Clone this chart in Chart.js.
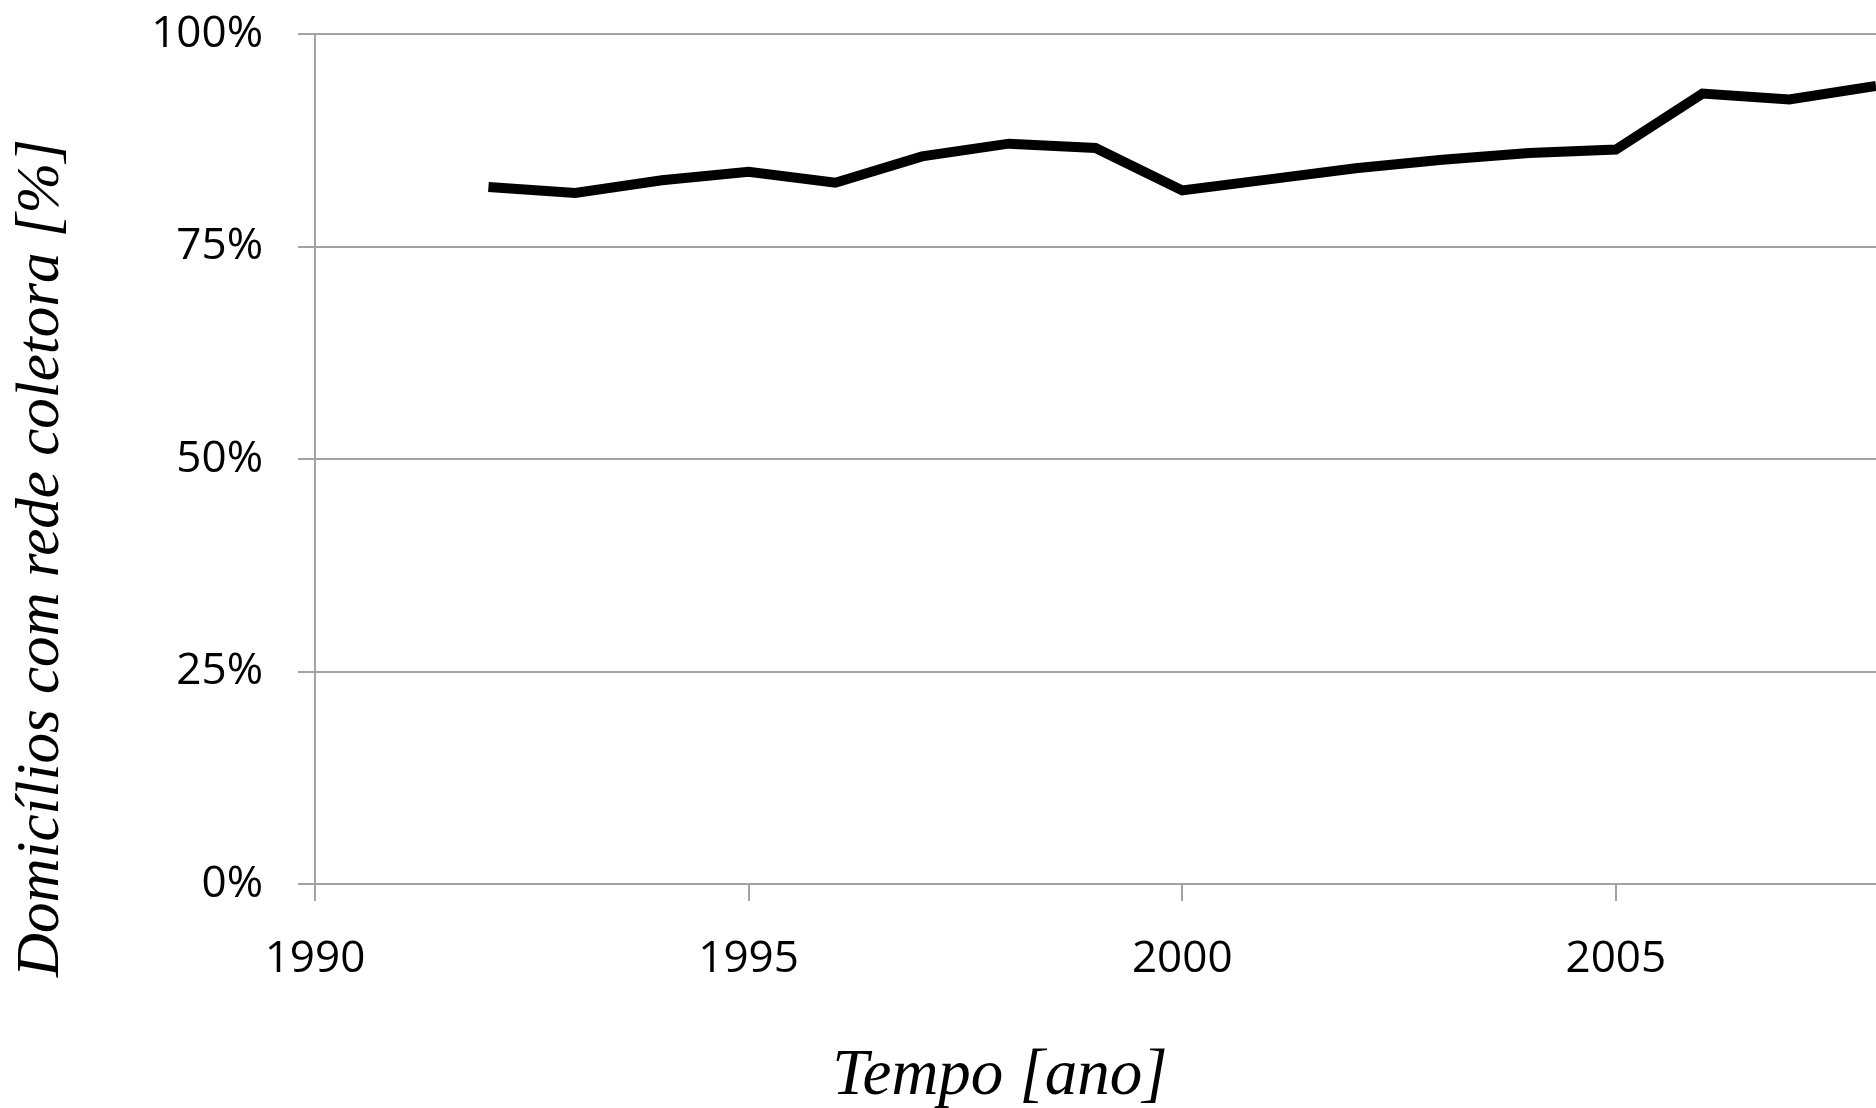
<!DOCTYPE html>
<html><head><meta charset="utf-8">
<script src="https://cdn.jsdelivr.net/npm/chart.js@4/dist/chart.umd.min.js"></script>
<style>html,body{margin:0;padding:0;background:#fff;overflow:hidden}</style>
</head><body>
<canvas id="c" width="1876" height="1108"></canvas>
<script>
const years = [1992,1993,1994,1995,1996,1997,1998,1999,2000,2001,2002,2003,2004,2005,2006,2007,2008];
const coverage = [82.0,81.3,82.8,83.8,82.5,85.6,87.1,86.6,81.6,82.9,84.2,85.2,86.0,86.4,93.0,92.3,93.9];
const xTickValues = [1990,1995,2000,2005];
const yTickValues = [0,25,50,75,100];
const xTitle = 'Tempo [ano]';
const yTitle = 'Domicílios com rede coletora [%]';

const gridColor = '#a3a3a3';
const tickFont = {family:'"Open Sans"', size:44};

const titlePlugin = {
  id:'axisTitles',
  afterDraw(chart){
    const ctx = chart.ctx, ca = chart.chartArea;
    ctx.save();
    ctx.fillStyle = '#000';
    ctx.textAlign = 'center';
    ctx.textBaseline = 'middle';
    ctx.font = 'italic 65px "Liberation Serif"';
    ctx.fillText(xTitle, ca.left + 685, 1077);
    ctx.font = 'italic 61px "Liberation Serif"';
    ctx.translate(42, 558);
    ctx.rotate(-Math.PI/2);
    ctx.fillText(yTitle, 0, 0);
    ctx.restore();
  }
};

new Chart(document.getElementById('c'), {
  type:'line',
  data:{
    datasets:[{
      data: years.map((y,i)=>({x:y, y:coverage[i]})),
      borderColor:'#000',
      borderWidth:10,
      pointRadius:0,
      tension:0,
      fill:false
    }]
  },
  options:{
    responsive:false,
    animation:false,
    devicePixelRatio:1,
    layout:{padding:{top:34,left:0,right:0,bottom:0}},
    plugins:{legend:{display:false},tooltip:{enabled:false},title:{display:false}},
    scales:{
      x:{
        type:'linear', min:1990, max:2008,
        afterBuildTicks(s){ s.ticks = xTickValues.map(v=>({value:v})); },
        afterFit(s){ s.height = 224; s.paddingLeft = 0; s.paddingRight = 0; },
        ticks:{font:tickFont, color:'#000', padding:32, maxRotation:0, autoSkip:false, callback:v=>String(v)},
        grid:{drawOnChartArea:false, drawTicks:true, tickLength:17, color:gridColor, lineWidth:2},
        border:{display:true, color:gridColor, width:2}
      },
      y:{
        type:'linear', min:0, max:100,
        afterBuildTicks(s){ s.ticks = yTickValues.map(v=>({value:v})); },
        afterFit(s){ s.width = 315; s.paddingTop = 0; s.paddingBottom = 0; },
        ticks:{font:tickFont, color:'#000', padding:35, callback:v=>v+'%'},
        grid:{drawTicks:true, tickLength:17, color:gridColor, lineWidth:2},
        border:{display:true, color:gridColor, width:2}
      }
    }
  },
  plugins:[titlePlugin]
});
</script>
</body></html>
